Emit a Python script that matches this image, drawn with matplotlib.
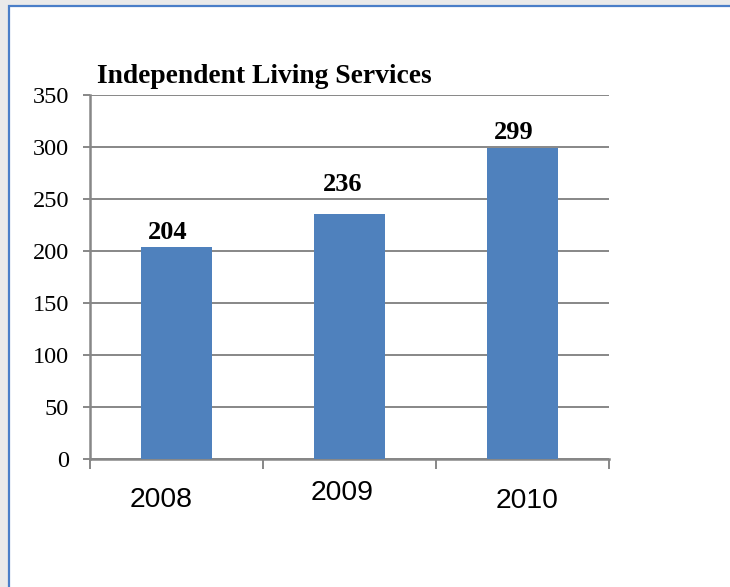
import matplotlib
matplotlib.use("Agg")
import matplotlib.pyplot as plt
from matplotlib.patches import Rectangle
import numpy as np

# ---- data ----
categories = ["2008", "2009", "2010"]
values = [204, 236, 299]
y_ticks = [0, 50, 100, 150, 200, 250, 300, 350]
title = "Independent Living Services"

# ---- styling (pixel offsets of the labels, as in the original slide) ----
DPI = 100
W, H = 730, 587
bar_color = "#4F81BD"
grid_color = "#878787"
# value label offsets (px) relative to bar top centre (baseline)
val_dx = [-8.5, -7, -9]
val_dy = [8, 23, 9]
# category label offsets (px) relative to bar centre on the 0 line (baseline)
cat_dx = [-15.5, -7.5, 4.5]
cat_dy = [-48, -41, -49]

def px2pt(p):
    return p * 72.0 / DPI

fig = plt.figure(figsize=(W / DPI, H / DPI), dpi=DPI)
fig.patch.set_facecolor("#EAEAEA")

# background axes holding the white panel with blue border
bg = fig.add_axes([0, 0, 1, 1], zorder=-10)
bg.set_axis_off()
bg.set_xlim(0, W)
bg.set_ylim(H, 0)
bg.add_patch(Rectangle((9, 6), W + 20, H + 20, facecolor="white",
                       edgecolor="#4A7EC8", linewidth=1.6))

left, right, top, bottom = 90, 609, 95, 459
ax = fig.add_axes([left / W, 1 - bottom / H, (right - left) / W, (bottom - top) / H], zorder=1)
ax.set_facecolor("none")

x = np.arange(len(categories))
ax.bar(x, values, width=0.405, color=bar_color, zorder=3)

ax.set_xlim(-0.5, len(categories) - 0.5)
ax.set_ylim(0, 350)

ax.set_yticks(y_ticks)
ax.set_yticklabels([str(t) for t in y_ticks], fontfamily="Liberation Serif", fontsize=17.5)
ax.yaxis.grid(True, color=grid_color, linewidth=1.4, zorder=1)
ax.set_axisbelow(True)

# x tick marks at category boundaries, no tick labels
ax.set_xticks(np.arange(len(categories) + 1) - 0.5)
ax.set_xticklabels([])
ax.tick_params(axis="x", direction="out", length=7, width=1.4, color=grid_color)
ax.tick_params(axis="y", direction="out", length=5, width=1.4, color=grid_color, pad=10)

for s in ["top", "right"]:
    ax.spines[s].set_visible(False)
for s in ["left", "bottom"]:
    ax.spines[s].set_color(grid_color)
    ax.spines[s].set_linewidth(1.8)

# value labels
for i, v in enumerate(values):
    ax.annotate(str(v), xy=(x[i], v), xytext=(px2pt(val_dx[i]), px2pt(val_dy[i])),
                textcoords="offset points", ha="center", va="baseline",
                fontfamily="Liberation Serif", fontweight="bold", fontsize=19,
                color="black", zorder=5)

# category labels
for i, c in enumerate(categories):
    ax.annotate(c, xy=(x[i], 0), xytext=(px2pt(cat_dx[i]), px2pt(cat_dy[i])),
                textcoords="offset points", ha="center", va="baseline",
                fontfamily="Liberation Sans", fontsize=20.4, color="black",
                annotation_clip=False)

# title
fig.text(97 / W, 1 - 83 / H, title, ha="left", va="baseline",
         fontfamily="Liberation Serif", fontweight="bold", fontsize=19.8, color="black")

fig.savefig("out.png", dpi=DPI)
